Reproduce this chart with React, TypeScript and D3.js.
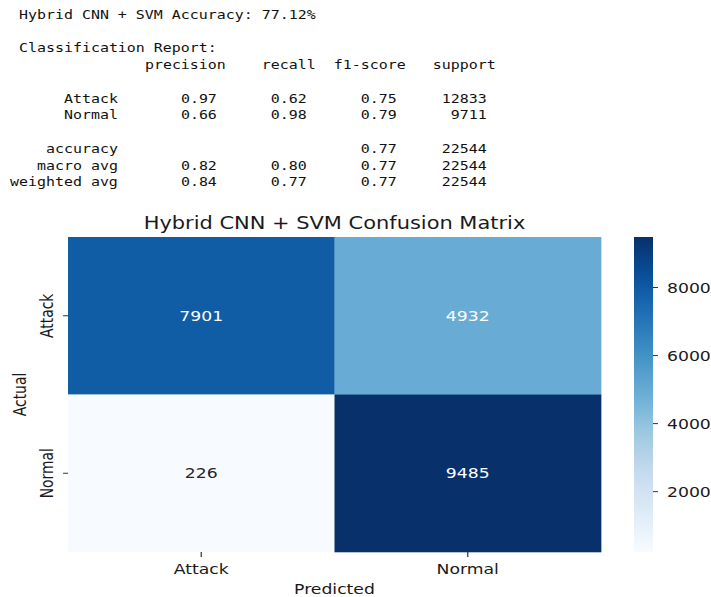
import React from "react";
import * as d3 from "d3";

// ---------- data ----------
const modelName = "Hybrid CNN + SVM";
const accuracyPct = 77.12;
const reportClasses = ["Attack", "Normal"];
const precision = [0.97, 0.66];
const recall = [0.62, 0.98];
const f1 = [0.75, 0.79];
const support = [12833, 9711];
const accuracy = 0.77;
const totalSupport = 22544;
const macroAvg = [0.82, 0.8, 0.77];
const weightedAvg = [0.84, 0.77, 0.77];

const predictedLabels = ["Attack", "Normal"];
const actualLabels = ["Attack", "Normal"];
const matrix = [
  [7901, 4932],
  [226, 9485],
];
const colorbarTicks = [2000, 4000, 6000, 8000];
const bluesColors = ["#f7fbff", "#deebf7", "#c6dbef", "#9ecae1", "#6baed6", "#4292c6", "#2171b5", "#08519c", "#08306b"];

// ---------- layout (reference pixel coords) ----------
const SX = 1.24; // horizontal stretch of the picture
const W = 711;
const H = 597;
const hm = { left: 68, right: 601, top: 237, bottom: 552 };
const cb = { left: 634, right: 653, top: 237, bottom: 552 };
const monoSize = 12.05;
const pitch = monoSize * 0.602 * SX;
const col0 = 10;
const line0 = 19;
const lineH = 16.73;

const sans = "'DejaVu Sans', sans-serif";
const mono = "'DejaVu Sans Mono', monospace";

const rpad = (s: string, n: number) => (s.length >= n ? s : " ".repeat(n - s.length) + s);
const f2 = (v: number) => v.toFixed(2);

function buildReport(): string[] {
  const lines: string[] = [];
  lines.push(` ${modelName} Accuracy: ${accuracyPct.toFixed(2)}%`);
  lines.push("");
  lines.push(" Classification Report:");
  lines.push(" " + rpad("", 12) + " " + [" precision", "    recall", "  f1-score", "   support"].join(""));
  lines.push("");
  reportClasses.forEach((c, i) => {
    lines.push(rpad(c, 12) + " " + " " + rpad(f2(precision[i]), 9) + " " + rpad(f2(recall[i]), 9) + " " + rpad(f2(f1[i]), 9) + " " + rpad(String(support[i]), 9));
  });
  lines.push("");
  lines.push(rpad("accuracy", 12) + " " + " " + rpad("", 9) + " " + rpad("", 9) + " " + rpad(f2(accuracy), 9) + " " + rpad(String(totalSupport), 9));
  lines.push(rpad("macro avg", 12) + " " + " " + macroAvg.map((v) => rpad(f2(v), 9)).join(" ") + " " + rpad(String(totalSupport), 9));
  lines.push(rpad("weighted avg", 12) + " " + " " + weightedAvg.map((v) => rpad(f2(v), 9)).join(" ") + " " + rpad(String(totalSupport), 9));
  return lines;
}

export default function App() {
  const flat = matrix.flat();
  const vmin = d3.min(flat) as number;
  const vmax = d3.max(flat) as number;
  const color = d3
    .scaleLinear<string>()
    .domain(bluesColors.map((_, i) => vmin + ((vmax - vmin) * i) / (bluesColors.length - 1)))
    .range(bluesColors)
    .interpolate(d3.interpolateRgb);

  const x = d3.scaleBand<string>().domain(predictedLabels).range([hm.left, hm.right]);
  const y = d3.scaleBand<string>().domain(actualLabels).range([hm.top, hm.bottom]);
  const cy = d3.scaleLinear().domain([vmin, vmax]).range([cb.bottom, cb.top]);

  const px = (v: number) => v / SX;

  const report = buildReport();
  const tokens: { t: string; x: number; y: number; key: string }[] = [];
  report.forEach((ln, li) => {
    const re = /\S+(?: \S+)*/g;
    let m: RegExpExecArray | null;
    while ((m = re.exec(ln))) {
      tokens.push({ t: m[0], x: col0 + m.index * pitch, y: line0 + li * lineH, key: `${li}-${m.index}` });
    }
  });

  const gradStops = d3.range(0, 1.0001, 0.05).map((t) => ({ off: t, c: color(vmin + t * (vmax - vmin)) }));

  const cells: React.ReactNode[] = [];
  matrix.forEach((row, ri) => {
    row.forEach((v, ci) => {
      const xx = x(predictedLabels[ci]) as number;
      const yy = y(actualLabels[ri]) as number;
      const t = (v - vmin) / (vmax - vmin);
      cells.push(
        <g key={`${ri}-${ci}`}>
          <rect x={px(xx)} y={yy} width={px(x.bandwidth()) + 0.3} height={y.bandwidth() + 0.3} fill={color(v)} />
          <text
            x={px(xx + x.bandwidth() / 2)}
            y={yy + y.bandwidth() / 2}
            dy="0.36em"
            textAnchor="middle"
            fontFamily={sans}
            fontSize={13.9}
            fill={t > 0.4 ? "#ffffff" : "#262626"}
          >
            {v}
          </text>
        </g>
      );
    });
  });

  return (
    <svg width={W} height={H} style={{ position: "absolute", left: 0, top: 0, background: "#fff" }}>
      <defs>
        <linearGradient id="cbgrad" x1="0" y1="1" x2="0" y2="0">
          {gradStops.map((s, i) => (
            <stop key={i} offset={s.off} stopColor={s.c} />
          ))}
        </linearGradient>
      </defs>
      <rect x={0} y={0} width={W} height={H} fill="#fff" />
      <g transform={`scale(${SX},1)`}>
        {tokens.map((tk) => (
          <text key={tk.key} x={px(tk.x)} y={tk.y} fontFamily={mono} fontSize={monoSize} fill="#111" style={{ whiteSpace: "pre" }}>
            {tk.t}
          </text>
        ))}

        <text x={px((hm.left + hm.right) / 2)} y={229.5} textAnchor="middle" fontFamily={sans} fontSize={16.9} fill="#1a1a1a">
          {`${modelName} Confusion Matrix`}
        </text>

        {cells}

        {/* x axis */}
        {predictedLabels.map((l) => {
          const cx = (x(l) as number) + x.bandwidth() / 2;
          return (
            <g key={l}>
              <line x1={px(cx)} x2={px(cx)} y1={hm.bottom} y2={hm.bottom + 4.9} stroke="#333" strokeWidth={1} />
              <text x={px(cx)} y={574} textAnchor="middle" fontFamily={sans} fontSize={13.9} fill="#1a1a1a">
                {l}
              </text>
            </g>
          );
        })}
        <text x={px((hm.left + hm.right) / 2)} y={594} textAnchor="middle" fontFamily={sans} fontSize={13.9} fill="#1a1a1a">
          Predicted
        </text>

        {/* y axis */}
        {actualLabels.map((l) => {
          const cyy = (y(l) as number) + y.bandwidth() / 2;
          return (
            <g key={l}>
              <line x1={px(hm.left - 4.9)} x2={px(hm.left)} y1={cyy} y2={cyy} stroke="#333" strokeWidth={1} />
              <text transform={`translate(${px(53)},${cyy}) rotate(-90)`} textAnchor="middle" fontFamily={sans} fontSize={13.9} fill="#1a1a1a">
                {l}
              </text>
            </g>
          );
        })}
        <text transform={`translate(${px(26)},${(hm.top + hm.bottom) / 2}) rotate(-90)`} textAnchor="middle" fontFamily={sans} fontSize={13.9} fill="#1a1a1a">
          Actual
        </text>

        {/* colorbar */}
        <rect x={px(cb.left)} y={cb.top} width={px(cb.right - cb.left)} height={cb.bottom - cb.top} fill="url(#cbgrad)" />
        {colorbarTicks.map((t) => (
          <g key={t}>
            <line x1={px(cb.right)} x2={px(cb.right + 5)} y1={cy(t)} y2={cy(t)} stroke="#333" strokeWidth={1} />
            <text x={px(667)} y={cy(t)} dy="0.36em" fontFamily={sans} fontSize={13.9} fill="#1a1a1a">
              {t}
            </text>
          </g>
        ))}
      </g>
    </svg>
  );
}
